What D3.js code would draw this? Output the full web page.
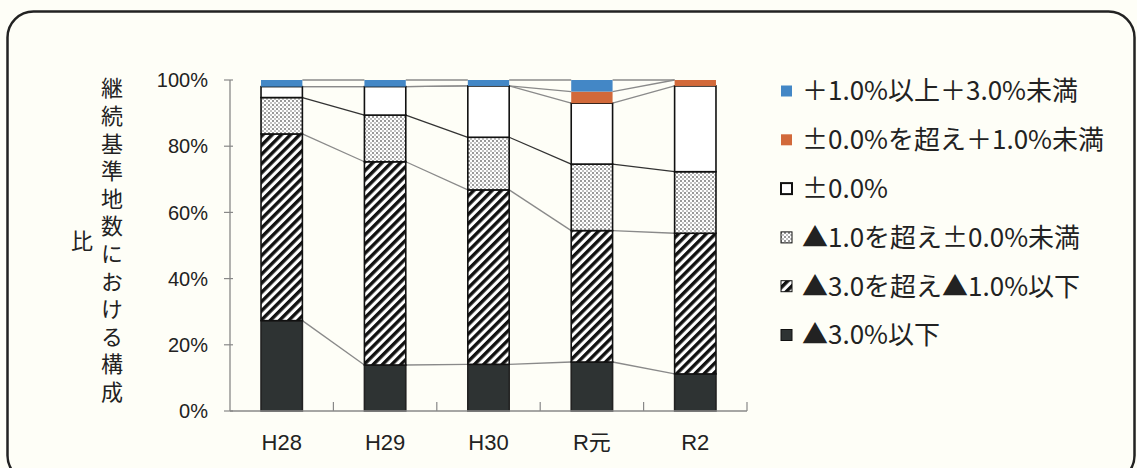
<!DOCTYPE html>
<html>
<head>
<meta charset="utf-8">
<script src="https://cdn.jsdelivr.net/npm/d3@7"></script>
<style>
  body { margin: 0; background: #fefef7; }
  svg { display: block; }
</style>
</head>
<body>
<div id="chart"></div>
<script>
// データ (%)
const years = ['H28', 'H29', 'H30', 'R元', 'R2'];
const seriesNames = ['▲3.0%以下', '▲3.0を超え▲1.0%以下', '▲1.0を超え±0.0%未満',
                     '±0.0%', '±0.0%を超え＋1.0%未満', '＋1.0%以上＋3.0%未満'];
const down3 = [27.3, 13.9, 14.1, 14.8, 11.2];
const down3to1 = [56.4, 61.4, 52.7, 39.7, 42.5];
const down1to0 = [11.0, 14.1, 15.9, 20.1, 18.6];
const flat = [3.3, 8.6, 15.5, 18.4, 25.9];
const up0to1 = [0, 0, 0, 3.5, 1.8];
const up1to3 = [2.0, 2.0, 1.8, 3.5, 0];
const yTicks = [0, 20, 40, 60, 80, 100];
const yTitle = '継続基準地数における構成比';

const W = 1137, H = 468;
const x0 = 230, x1 = 747, yBottom = 411, yTop = 80;
const latin = 'Liberation Sans, Arial, Noto Sans CJK JP, sans-serif';
const cjk = 'Noto Sans CJK JP, sans-serif';

const svg = d3.select('#chart').append('svg')
    .attr('width', W).attr('height', H);

// パターン
const defs = svg.append('defs');
const hatch = defs.append('pattern')
    .attr('id', 'hatch').attr('patternUnits', 'userSpaceOnUse')
    .attr('width', 6.5).attr('height', 6.5)
    .attr('patternTransform', 'rotate(45)');
hatch.append('rect').attr('width', 6.5).attr('height', 6.5).attr('fill', '#fff');
hatch.append('rect').attr('width', 3.4).attr('height', 6.5).attr('fill', '#111');

const dots = defs.append('pattern')
    .attr('id', 'dots').attr('patternUnits', 'userSpaceOnUse')
    .attr('width', 4).attr('height', 4);
dots.append('rect').attr('width', 4).attr('height', 4).attr('fill', '#fff');
dots.append('rect').attr('width', 2).attr('height', 2).attr('fill', '#999');
dots.append('rect').attr('x', 2).attr('y', 2).attr('width', 2).attr('height', 2).attr('fill', '#c2c2c2');

const fills = ['#2e3333', 'url(#hatch)', 'url(#dots)', '#ffffff', '#d2693a', '#4387c6'];
const strokes = ['#222', '#111', '#111', '#111', 'none', 'none'];

// 枠
svg.append('rect')
    .attr('x', 7.5).attr('y', 11.5).attr('width', 1127).attr('height', 470)
    .attr('rx', 26).attr('fill', '#fefef7')
    .attr('stroke', '#222').attr('stroke-width', 2.5);

const x = d3.scaleBand().domain(years).range([x0, x1])
    .paddingInner(0.6).paddingOuter(0.3);
const y = d3.scaleLinear().domain([0, 100]).range([yBottom, yTop]);

const table = years.map((yr, i) => ({
    year: yr,
    s0: down3[i], s1: down3to1[i], s2: down1to0[i],
    s3: flat[i], s4: up0to1[i], s5: up1to3[i]
}));
const stack = d3.stack().keys(['s0', 's1', 's2', 's3', 's4', 's5'])(table);

// 系列線
const lineG = svg.append('g');
stack.forEach((layer, k) => {
    for (let i = 0; i < years.length - 1; i++) {
        lineG.append('line')
            .attr('x1', x(years[i]) + x.bandwidth())
            .attr('y1', y(layer[i][1]))
            .attr('x2', x(years[i + 1]))
            .attr('y2', y(layer[i + 1][1]))
            .attr('stroke', k === 2 ? '#333' : '#8a8a8a')
            .attr('stroke-width', 1.3);
    }
});

// 棒
stack.forEach((layer, k) => {
    svg.append('g').selectAll('rect')
        .data(layer.filter(d => d[1] - d[0] > 0))
        .join('rect')
        .attr('x', d => x(d.data.year))
        .attr('y', d => y(d[1]))
        .attr('width', x.bandwidth())
        .attr('height', d => y(d[0]) - y(d[1]))
        .attr('fill', fills[k])
        .attr('stroke', strokes[k])
        .attr('stroke-width', 1.6);
});

// 軸
const axisColor = '#888';
svg.append('line').attr('x1', x0).attr('x2', x0).attr('y1', yTop).attr('y2', yBottom)
    .attr('stroke', axisColor).attr('stroke-width', 1.3);
svg.append('line').attr('x1', x0).attr('x2', x1).attr('y1', yBottom).attr('y2', yBottom)
    .attr('stroke', axisColor).attr('stroke-width', 1.3);

yTicks.forEach(t => {
    svg.append('line').attr('x1', x0 - 6).attr('x2', x0 + 3)
        .attr('y1', y(t)).attr('y2', y(t))
        .attr('stroke', axisColor).attr('stroke-width', 1.2);
    svg.append('text').attr('x', 208).attr('y', y(t)).attr('dy', '0.36em')
        .attr('text-anchor', 'end')
        .attr('font-family', latin)
        .attr('font-size', 20).attr('fill', '#222')
        .text(t + '%');
});

const step = x.step();
for (let i = 1; i <= years.length; i++) {
    const tx = x0 + step * i;
    svg.append('line').attr('x1', tx).attr('x2', tx)
        .attr('y1', yBottom).attr('y2', yBottom - 9)
        .attr('stroke', axisColor).attr('stroke-width', 1.2);
}
years.forEach(yr => {
    svg.append('text')
        .attr('x', x(yr) + x.bandwidth() / 2).attr('y', 442).attr('dy', '0.36em')
        .attr('text-anchor', 'middle')
        .attr('font-family', latin)
        .attr('font-size', 22).attr('fill', '#222')
        .text(yr);
});

// Y軸タイトル (縦書き、2列)
const chars = Array.from(yTitle);
svg.append('text')
    .attr('x', 112).attr('y', 77)
    .style('writing-mode', 'vertical-rl')
    .style('text-orientation', 'upright')
    .style('letter-spacing', '5.6px')
    .attr('font-family', cjk)
    .attr('font-size', 22).attr('fill', '#222')
    .text(chars.slice(0, 12).join(''));
svg.append('text')
    .attr('x', 82).attr('y', 230)
    .style('writing-mode', 'vertical-rl')
    .style('text-orientation', 'upright')
    .attr('font-family', cjk)
    .attr('font-size', 22).attr('fill', '#222')
    .text(chars.slice(12).join(''));

// 凡例
const legendOrder = [5, 4, 3, 2, 1, 0];
const lg = svg.append('g');
legendOrder.forEach((k, i) => {
    const ly = 91 + i * 48.8;
    lg.append('rect').attr('x', 781).attr('y', ly - 5.5).attr('width', 11).attr('height', 11)
        .attr('fill', fills[k])
        .attr('stroke', k >= 4 ? 'none' : '#111').attr('stroke-width', k === 3 ? 2 : 1);
    lg.append('text').attr('x', 802).attr('y', ly).attr('dy', '0.36em')
        .attr('font-family', cjk)
        .attr('font-size', 26).attr('fill', '#222')
        .text(seriesNames[k]);
});
</script>
</body>
</html>
